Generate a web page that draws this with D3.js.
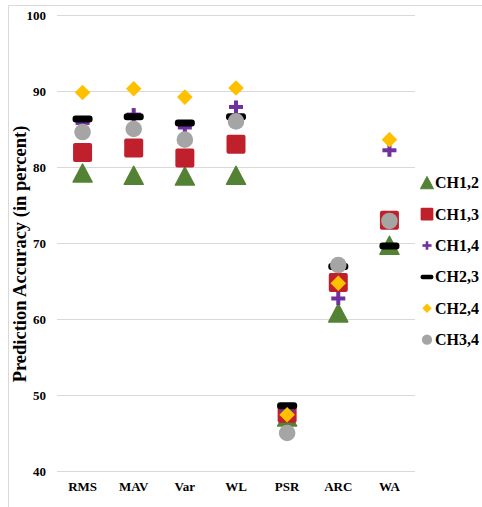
<!DOCTYPE html>
<html>
<head>
<meta charset="utf-8">
<script src="https://cdn.jsdelivr.net/npm/d3@7"></script>
<style>
  html, body { margin: 0; padding: 0; background: #fff; }
  svg { display: block; }
  text { font-family: "Liberation Serif", "Times New Roman", serif; font-weight: bold; fill: #000; }
</style>
</head>
<body>
<svg id="chart" width="482" height="507"></svg>
<script>
// Feature extraction methods on the x axis
const categories = ["RMS", "MAV", "Var", "WL", "PSR", "ARC", "WA"];
const yTicks = [40, 50, 60, 70, 80, 90, 100];

// Prediction accuracy (%) per channel pair, one value per method
const seriesNames = ["CH1,2", "CH1,3", "CH1,4", "CH2,3", "CH2,4", "CH3,4"];
const ch12 = [79.2, 78.9, 78.8, 78.9, 47.1, 60.8, 69.7];
const ch13 = [81.9, 82.5, 81.2, 83.0, 47.6, 64.8, 73.0];
const ch14 = [85.8, 86.9, 85.2, 87.9, 47.9, 62.7, 82.2];
const ch23 = [86.3, 86.6, 85.8, 86.6, 48.6, 66.9, 69.6];
const ch24 = [89.8, 90.3, 89.2, 90.4, 47.4, 64.7, 83.6];
const ch34 = [84.6, 85.0, 83.6, 86.0, 45.0, 67.1, 72.9];

const svg = d3.select("#chart");

// Outer chart frame
svg.append("path")
  .attr("d", "M8.5,507 V5.5 H482")
  .attr("fill", "none")
  .attr("stroke", "#d9d9d9")
  .attr("stroke-width", 1);

const x = d3.scaleBand().domain(categories).range([57, 415]).padding(0);
const y = d3.scaleLinear().domain([40, 100]).range([471, 15]);
const cx = c => x(c) + x.bandwidth() / 2;

// Horizontal gridlines and value labels
const yAxis = svg.append("g")
  .attr("transform", "translate(57,0)")
  .call(d3.axisLeft(y).tickValues(yTicks).tickSize(-(415 - 57)).tickPadding(11).tickFormat(d3.format("d")));
yAxis.select(".domain").remove();
yAxis.selectAll(".tick line").attr("stroke", "#d9d9d9").attr("stroke-width", 1.2);
yAxis.selectAll(".tick text").attr("font-size", 13).attr("fill", "#000");

// Category labels
const xAxis = svg.append("g")
  .attr("transform", "translate(0,471)")
  .call(d3.axisBottom(x).tickSize(0).tickPadding(11));
xAxis.select(".domain").remove();
xAxis.selectAll(".tick text").attr("font-size", 13).attr("fill", "#000");

// Axis title
svg.append("text")
  .attr("transform", "translate(26,254) rotate(-90)")
  .attr("text-anchor", "middle")
  .attr("font-size", 18.5)
  .text("Prediction Accuracy (in percent)");

// Marker shapes, each centred on its bounding box
function marker(g, kind, s) {
  if (kind === "triangle") {
    const w = 19 * s, h = 18 * s;
    g.append("path").attr("d", `M0,${-h / 2} L${w / 2},${h / 2} L${-w / 2},${h / 2} Z`)
      .attr("fill", "#548235").attr("stroke", "#548235").attr("stroke-width", 1.5 * s).attr("stroke-linejoin", "round");
  } else if (kind === "square") {
    const a = 19 * s;
    g.append("rect").attr("x", -a / 2).attr("y", -a / 2).attr("width", a).attr("height", a)
      .attr("rx", 2 * s).attr("fill", "#c0202b");
  } else if (kind === "plus") {
    const w = 14 * s, h = 13 * s, t = 4 * s;
    g.append("rect").attr("x", -w / 2).attr("y", -t / 2).attr("width", w).attr("height", t).attr("fill", "#7030a0");
    g.append("rect").attr("x", -t / 2).attr("y", -h / 2).attr("width", t).attr("height", h).attr("fill", "#7030a0");
  } else if (kind === "dash") {
    const w = 20 * s, h = 7 * s;
    g.append("rect").attr("x", -w / 2).attr("y", -h / 2).attr("width", w).attr("height", h)
      .attr("rx", 3 * s).attr("fill", "#000");
  } else if (kind === "diamond") {
    const r = 7.8 * s;
    g.append("path").attr("d", `M0,${-r} L${r},0 L0,${r} L${-r},0 Z`).attr("fill", "#ffc000");
  } else if (kind === "circle") {
    g.append("circle").attr("r", 8.3 * s).attr("fill", "#a5a5a5");
  }
}

const series = [
  { name: seriesNames[0], values: ch12, kind: "triangle", ls: 0.68 },
  { name: seriesNames[1], values: ch13, kind: "square", ls: 0.67 },
  { name: seriesNames[2], values: ch14, kind: "plus", ls: 0.65 },
  { name: seriesNames[3], values: ch23, kind: "dash", ls: 0.64 },
  { name: seriesNames[4], values: ch24, kind: "diamond", ls: 0.6 },
  { name: seriesNames[5], values: ch34, kind: "circle", ls: 0.62 }
];

// Points, drawn series by series so later series sit on top
series.forEach(sr => {
  const gs = svg.append("g").attr("class", "series");
  sr.values.forEach((v, i) => {
    const g = gs.append("g").attr("transform", `translate(${cx(categories[i])},${y(v)})`);
    marker(g, sr.kind, 1);
  });
});

// Legend
const legend = svg.append("g").attr("class", "legend");
series.forEach((sr, i) => {
  const ly = 182.7 + i * 31.4;
  const g = legend.append("g").attr("transform", `translate(427,${ly})`);
  marker(g, sr.kind, sr.ls);
  legend.append("text")
    .attr("x", 435)
    .attr("y", ly)
    .attr("dy", "0.34em")
    .attr("font-size", 16)
    .text(sr.name);
});
</script>
</body>
</html>
